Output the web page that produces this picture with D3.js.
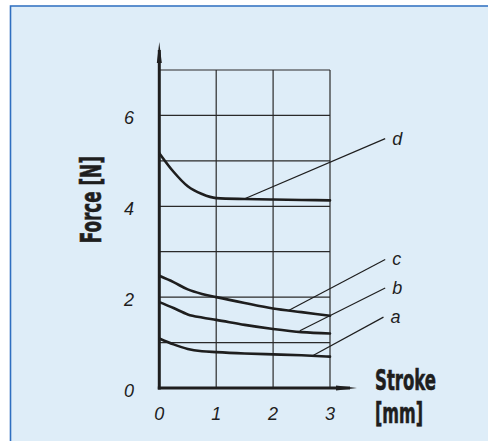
<!DOCTYPE html>
<html><head><meta charset="utf-8">
<script src="https://cdn.jsdelivr.net/npm/d3@7"></script>
<style>
html,body{margin:0;padding:0;background:#fff;overflow:hidden;}
svg{display:block;}
</style></head>
<body>
<svg id="c" width="488" height="441"></svg>
<script>
// ---- data ----
const xTicks = [0, 1, 2, 3];
const yTicks = [0, 2, 4, 6];
const yGrid = [1, 2, 3, 4, 5, 6, 7];
const strokeMm = [0, 0.25, 0.5, 0.75, 1, 1.5, 2, 2.5, 3];
const forceD = [5.17, 4.76, 4.44, 4.27, 4.18, 4.16, 4.15, 4.14, 4.13];
const forceC = [2.47, 2.33, 2.17, 2.07, 2.0, 1.87, 1.75, 1.67, 1.59];
const forceB = [1.89, 1.76, 1.62, 1.55, 1.50, 1.39, 1.30, 1.23, 1.20];
const forceA = [1.09, 0.96, 0.86, 0.81, 0.79, 0.76, 0.74, 0.72, 0.69];
const seriesNames = ["a", "b", "c", "d"];
// leader lines: point on curve -> label end
const leaderFrom = { a: [2.71, 0.72], b: [2.47, 1.26], c: [2.28, 1.71], d: [1.49, 4.16] };
const leaderTo = { a: [3.94, 1.56], b: [3.97, 2.20], c: [3.97, 2.83], d: [3.97, 5.49] };
const xTitle = ["Stroke", "[mm]"];
const yTitle = "Force [N]";

const svg = d3.select("#c");
// panel background (cut off at right and bottom)
svg.append("rect").attr("x", 10).attr("y", 5.5).attr("width", 478).attr("height", 436)
  .attr("fill", "#deedf8");
svg.append("path").attr("d", "M10.5,441 L10.5,6 L488,6")
  .attr("fill", "none").attr("stroke", "#2f6fc0").attr("stroke-width", 1.6);

const x = d3.scaleLinear().domain([0, 3]).range([159.3, 330]);
const y = d3.scaleLinear().domain([0, 7]).range([388, 70]);
const ink = "#1e1e1e";

// grid
const g = svg.append("g");
g.selectAll("line.h").data(yGrid).join("line")
  .attr("x1", x(0)).attr("x2", x(3)).attr("y1", d => y(d)).attr("y2", d => y(d))
  .attr("stroke", "#2a2a2a").attr("stroke-width", 1.2);
g.selectAll("line.v").data(xTicks.filter(d => d > 0)).join("line")
  .attr("x1", d => x(d)).attr("x2", d => x(d)).attr("y1", y(0)).attr("y2", y(7))
  .attr("stroke", "#2a2a2a").attr("stroke-width", 1.2);

// axes with arrows
svg.append("line").attr("x1", x(0)).attr("x2", x(0)).attr("y1", y(0) + 1.5).attr("y2", 50)
  .attr("stroke", ink).attr("stroke-width", 3);
svg.append("path").attr("d", `M${x(0)},42 L${x(0) - 2.5},63 L${x(0) + 2.5},63 Z`).attr("fill", ink);
svg.append("line").attr("x1", x(0) - 1.5).attr("x2", 350).attr("y1", y(0)).attr("y2", y(0))
  .attr("stroke", ink).attr("stroke-width", 3);
svg.append("path").attr("d", `M357,${y(0)} L336,${y(0) - 2.5} L336,${y(0) + 2.5} Z`).attr("fill", ink);

// tick labels
const tickFont = "'Liberation Sans', Arial, sans-serif";
svg.selectAll("text.yt").data(yTicks).join("text")
  .attr("x", 134).attr("y", d => y(d) + 8.5)
  .attr("text-anchor", "end").attr("font-family", tickFont).attr("font-style", "italic")
  .attr("font-size", 18).attr("fill", ink).text(d => d);
svg.selectAll("text.xt").data(xTicks).join("text")
  .attr("x", d => x(d)).attr("y", 420)
  .attr("text-anchor", "middle").attr("font-family", tickFont).attr("font-style", "italic")
  .attr("font-size", 18).attr("fill", ink).text(d => d);

// curves
const line = d3.line().x(d => x(d[0])).y(d => y(d[1])).curve(d3.curveMonotoneX);
const curves = [forceA, forceB, forceC, forceD].map(v => d3.zip(strokeMm, v));
svg.selectAll("path.curve").data(curves).join("path")
  .attr("d", line).attr("fill", "none").attr("stroke", ink).attr("stroke-width", 2.6)
  .attr("stroke-linecap", "round");

// leaders and labels
seriesNames.forEach(n => {
  const f = leaderFrom[n], t = leaderTo[n];
  svg.append("line").attr("x1", x(f[0])).attr("y1", y(f[1])).attr("x2", x(t[0])).attr("y2", y(t[1]))
    .attr("stroke", ink).attr("stroke-width", 1.2);
  svg.append("text").attr("x", x(t[0]) + 7).attr("y", y(t[1]) + 6)
    .attr("font-family", tickFont).attr("font-style", "italic").attr("font-size", 18)
    .attr("fill", ink).text(n);
});

// axis titles
const titleFont = "'DejaVu Sans Condensed', 'Liberation Sans Narrow', sans-serif";
function title(sel) {
  return sel.attr("font-family", titleFont).attr("font-weight", "bold").attr("font-size", 28)
    .attr("fill", ink).attr("stroke", ink).attr("stroke-width", 0.6)
    .attr("lengthAdjust", "spacingAndGlyphs");
}
title(svg.append("text").attr("x", 375).attr("y", 390)).attr("textLength", 61).text(xTitle[0]);
title(svg.append("text").attr("x", 375).attr("y", 423)).attr("textLength", 48).text(xTitle[1]);
title(svg.append("text").attr("transform", "translate(101,199.7) rotate(-90)")
  .attr("text-anchor", "middle")).attr("textLength", 87).text(yTitle);
</script>
</body></html>
